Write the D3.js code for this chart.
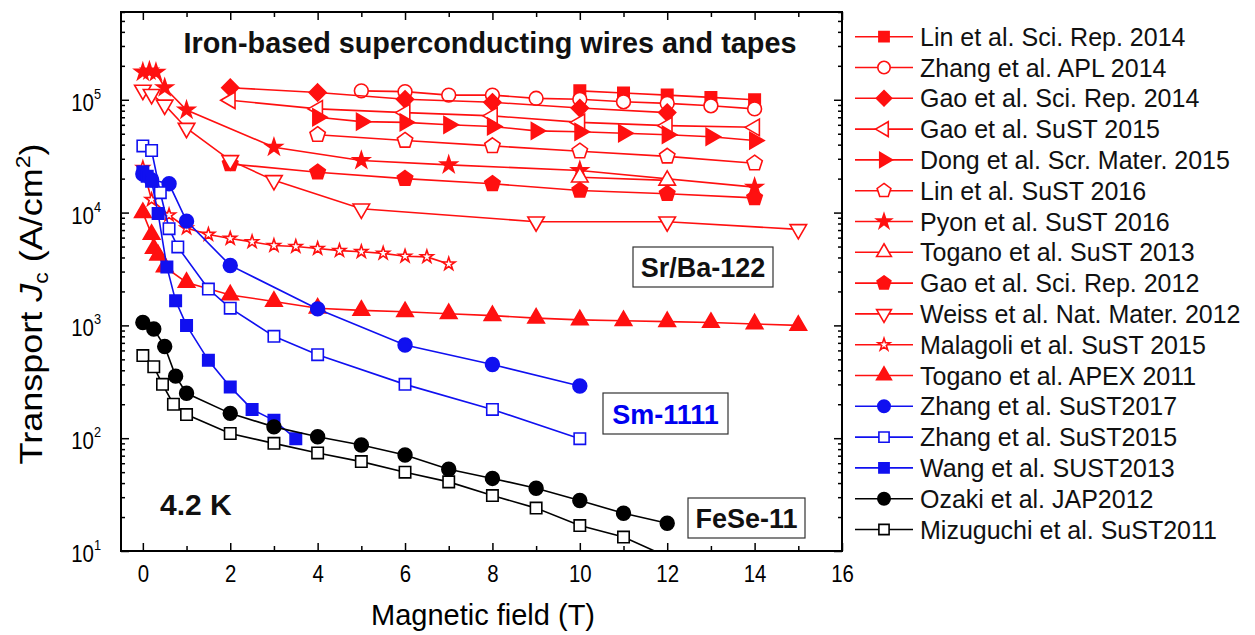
<!DOCTYPE html>
<html>
<head>
<meta charset="utf-8">
<script src="https://cdn.jsdelivr.net/npm/d3@7"></script>
<style>
  body { margin: 0; background: #fff; }
  svg { display: block; font-family: "Liberation Sans", Arial, Helvetica, sans-serif; }
</style>
</head>
<body>
<svg id="chart" width="1255" height="635"></svg>
<script>
// ---- Data: [magnetic field (T), transport Jc (A/cm^2)] at 4.2 K ----
const linSciRep2014 = [[10,1.2e5],[11,1.15e5],[12,1.1e5],[13,1.05e5],[14,1.0e5]];
const zhangAPL2014 = [[5,1.2e5],[6,1.18e5],[7,1.1e5],[8,1.1e5],[9,1.03e5],[10,1.01e5],[11,9.6e4],[12,9.3e4],[13,8.85e4],[14,8.3e4]];
const gaoSciRep2014 = [[2,1.28e5],[4,1.16e5],[6,1.01e5],[8,9.5e4],[10,8.45e4],[12,7.7e4]];
const gaoSuST2015 = [[2,9.9e4],[4,8.3e4],[6,7.7e4],[8,7.2e4],[10,6.3e4],[12,5.9e4],[14,5.7e4]];
const dongScrMater2015 = [[4,7.0e4],[5,6.4e4],[6,6.3e4],[7,6.0e4],[8,5.8e4],[9,5.3e4],[10,5.2e4],[11,5.05e4],[12,4.9e4],[13,4.7e4],[14,4.35e4]];
const linSuST2016 = [[4,4.9e4],[6,4.35e4],[8,3.9e4],[10,3.5e4],[12,3.15e4],[14,2.74e4]];
const pyonSuST2016 = [[0,1.76e5],[0.15,1.8e5],[0.3,1.75e5],[0.5,1.28e5],[1,8.1e4],[3,3.8e4],[5,2.9e4],[7,2.65e4],[10,2.36e4],[14,1.68e4]];
const toganoSuST2013 = [[10,2.06e4],[12,1.93e4]];
const gaoSciRep2012 = [[2,2.7e4],[4,2.28e4],[6,2.0e4],[8,1.8e4],[10,1.57e4],[12,1.47e4],[14,1.35e4]];
const weissNatMater2012 = [[0,1.22e5],[0.2,1.12e5],[0.5,9.0e4],[1,5.6e4],[2,2.9e4],[3,1.93e4],[5,1.08e4],[9,8.3e3],[12,8.3e3],[15,7.1e3]];
const malagoliSuST2015 = [[0,2.5e4],[0.2,1.3e4],[0.6,9.5e3],[1,7.3e3],[1.5,6.4e3],[2,5.9e3],[2.5,5.5e3],[3,5.1e3],[3.5,5.0e3],[4,4.8e3],[4.5,4.6e3],[5,4.5e3],[5.5,4.35e3],[6,4.1e3],[6.5,4.05e3],[7,3.5e3]];
const toganoAPEX2011 = [[0,1.0e4],[0.2,6.4e3],[0.25,4.8e3],[0.35,4.2e3],[0.5,3.3e3],[1,2.4e3],[2,1.86e3],[3,1.63e3],[4,1.42e3],[5,1.36e3],[6,1.32e3],[7,1.27e3],[8,1.22e3],[9,1.16e3],[10,1.12e3],[11,1.1e3],[12,1.08e3],[13,1.06e3],[14,1.03e3],[15,1.0e3]];
const zhangSuST2017 = [[0,2.2e4],[0.2,1.95e4],[0.6,1.8e4],[1,8.4e3],[2,3.4e3],[4,1.4e3],[6,670],[8,450],[10,290]];
const zhangSuST2015 = [[0,3.9e4],[0.2,3.55e4],[0.4,1.5e4],[0.6,7.2e3],[0.8,4.96e3],[1.5,2.1e3],[2,1.42e3],[3,800],[4,550],[6,300],[8,180],[10,99]];
const wangSUST2013 = [[0,2.3e4],[0.1,2.1e4],[0.2,1.9e4],[0.35,9.8e3],[0.55,3.3e3],[0.75,1.65e3],[1,1.0e3],[1.5,490],[2,285],[2.5,180],[3,144],[3.5,99]];
const ozakiJAP2012 = [[0,1.06e3],[0.25,930],[0.5,650],[0.75,355],[1,250],[2,166],[3,126],[4,103],[5,87],[6,71],[7,53],[8,44],[9,36],[10,28],[11,21.6],[12,17.6]];
const mizuguchiSuST2011 = [[0,540],[0.25,430],[0.45,300],[0.7,200],[1,162],[2,110],[3,90],[4,74],[5,62],[6,50],[7,41],[8,31],[9,24],[10,16.8],[11,13.3],[12,8.9]];

const seriesLabels = [
  "Lin et al. Sci. Rep. 2014", "Zhang et al. APL 2014", "Gao et al. Sci. Rep. 2014",
  "Gao et al. SuST 2015", "Dong et al. Scr. Mater. 2015", "Lin et al. SuST 2016",
  "Pyon et al. SuST 2016", "Togano et al. SuST 2013", "Gao et al. Sci. Rep. 2012",
  "Weiss et al. Nat. Mater. 2012", "Malagoli et al. SuST 2015", "Togano et al. APEX 2011",
  "Zhang et al. SuST2017", "Zhang et al. SuST2015", "Wang et al. SUST2013",
  "Ozaki et al. JAP2012", "Mizuguchi et al. SuST2011"
];
const seriesData = [
  linSciRep2014, zhangAPL2014, gaoSciRep2014, gaoSuST2015, dongScrMater2015, linSuST2016,
  pyonSuST2016, toganoSuST2013, gaoSciRep2012, weissNatMater2012, malagoliSuST2015, toganoAPEX2011,
  zhangSuST2017, zhangSuST2015, wangSUST2013, ozakiJAP2012, mizuguchiSuST2011
];
const seriesShapes = ["square","circle","diamond","triLeft","triRight","pentagon","star","triUp","pentagon",
  "triDown","star","triUp","circle","square","square","circle","square"];
const seriesFilled = [true,false,true,false,true,false,true,false,true,false,false,true,true,false,true,true,false];
const seriesGroup = ["r","r","r","r","r","r","r","r","r","r","r","r","b","b","b","k","k"];

const xMajorTicks = [0,2,4,6,8,10,12,14,16];
const xMinorTicks = [1,3,5,7,9,11,13,15];
const yMajorTicks = [10,100,1000,10000,100000];
const yExponents = ["1","2","3","4","5"];

// ---- Layout ----
const colors = { r: "#ff1010", b: "#1010f0", k: "#000" };
const plot = { left: 121, right: 842, top: 12, bottom: 551 };
const svg = d3.select("#chart");
const x = d3.scaleLinear().domain([-0.5, 16]).range([plot.left, plot.right]);
const y = d3.scaleLog().domain([10, 6e5]).range([plot.bottom, plot.top]);

const yMinorTicks = [];
yMajorTicks.forEach(d => { for (let m = 2; m <= 9; m++) if (d * m <= 6e5) yMinorTicks.push(d * m); });

// marker symbol types
function polygonType(n, rot, k) {
  return { draw(ctx, size) {
    const r = Math.sqrt(size) * k;
    for (let i = 0; i < n; i++) {
      const a = rot + i * 2 * Math.PI / n;
      const px = r * Math.sin(a), py = -r * Math.cos(a);
      if (i === 0) ctx.moveTo(px, py); else ctx.lineTo(px, py);
    }
    ctx.closePath();
  }};
}
const shapeTypes = {
  square: d3.symbolSquare,
  circle: d3.symbolCircle,
  diamond: polygonType(4, 0, 0.72),
  triUp: polygonType(3, 0, 0.78),
  triDown: polygonType(3, Math.PI, 0.78),
  triLeft: polygonType(3, -Math.PI / 2, 0.78),
  triRight: polygonType(3, Math.PI / 2, 0.78),
  pentagon: polygonType(5, 0, 0.66),
  star: d3.symbolStar
};
const shapeSizes = { square: 130, circle: 150, diamond: 140, triUp: 150, triDown: 150, triLeft: 150, triRight: 150, pentagon: 150, star: 85 };

// ---- Axes ----
svg.append("defs").append("clipPath").attr("id", "plotClip")
  .append("rect").attr("x", plot.left).attr("y", plot.top)
  .attr("width", plot.right - plot.left).attr("height", plot.bottom - plot.top);

function styleAxis(g) {
  g.select(".domain").remove();
  g.selectAll(".tick line").attr("stroke", "#000").attr("stroke-width", 1.5);
}

const gx = svg.append("g").attr("transform", `translate(0,${plot.bottom})`)
  .call(d3.axisBottom(x).tickValues(xMajorTicks).tickSizeInner(-8).tickSizeOuter(0).tickPadding(14).tickFormat(d3.format("d")))
  .call(styleAxis);
gx.selectAll(".tick text").attr("font-size", 24).attr("fill", "#000").attr("transform", "scale(0.85,1)");
svg.append("g").attr("transform", `translate(0,${plot.bottom})`)
  .call(d3.axisBottom(x).tickValues(xMinorTicks).tickSizeInner(-5).tickSizeOuter(0).tickFormat(""))
  .call(styleAxis);
svg.append("g").attr("transform", `translate(0,${plot.top})`)
  .call(d3.axisTop(x).tickValues(xMajorTicks).tickSizeInner(-8).tickSizeOuter(0).tickFormat(""))
  .call(styleAxis);
svg.append("g").attr("transform", `translate(0,${plot.top})`)
  .call(d3.axisTop(x).tickValues(xMinorTicks).tickSizeInner(-5).tickSizeOuter(0).tickFormat(""))
  .call(styleAxis);

svg.append("g").attr("transform", `translate(${plot.left},0)`)
  .call(d3.axisLeft(y).tickValues(yMajorTicks).tickSizeInner(-8).tickSizeOuter(0).tickFormat(""))
  .call(styleAxis);
svg.append("g").attr("transform", `translate(${plot.left},0)`)
  .call(d3.axisLeft(y).tickValues(yMinorTicks).tickSizeInner(-4).tickSizeOuter(0).tickFormat(""))
  .call(styleAxis);
svg.append("g").attr("transform", `translate(${plot.right},0)`)
  .call(d3.axisRight(y).tickValues(yMajorTicks).tickSizeInner(-8).tickSizeOuter(0).tickFormat(""))
  .call(styleAxis);
svg.append("g").attr("transform", `translate(${plot.right},0)`)
  .call(d3.axisRight(y).tickValues(yMinorTicks).tickSizeInner(-4).tickSizeOuter(0).tickFormat(""))
  .call(styleAxis);

// y tick labels: 10^n
yMajorTicks.forEach((d, i) => {
  const t = svg.append("text")
    .attr("transform", `translate(${plot.left - 20},${y(d) + 11}) scale(0.85,1)`)
    .attr("text-anchor", "end").attr("font-size", 24).attr("fill", "#000");
  t.append("tspan").text("10");
  t.append("tspan").attr("font-size", 15).attr("dy", -12).text(yExponents[i]);
});

// frame
svg.append("rect").attr("x", plot.left).attr("y", plot.top)
  .attr("width", plot.right - plot.left).attr("height", plot.bottom - plot.top)
  .attr("fill", "none").attr("stroke", "#000").attr("stroke-width", 2);

// axis titles
svg.append("text").attr("x", 483).attr("y", 625).attr("text-anchor", "middle")
  .attr("font-size", 29).attr("fill", "#000").text("Magnetic field (T)");
const yt = svg.append("text")
  .attr("transform", `translate(42,304) scale(0.85,1) rotate(-90)`)
  .attr("text-anchor", "middle").attr("font-size", 36).attr("fill", "#000");
yt.append("tspan").text("Transport ");
yt.append("tspan").attr("font-style", "italic").text("J");
yt.append("tspan").attr("font-size", 23).attr("dy", 7).text("c");
yt.append("tspan").attr("dy", -7).text(" (A/cm");
yt.append("tspan").attr("font-size", 23).attr("dy", -14).text("2");
yt.append("tspan").attr("dy", 14).text(")");

// ---- Series ----
const line = d3.line().x(d => x(d[0])).y(d => y(d[1]));
const plotG = svg.append("g").attr("clip-path", "url(#plotClip)");

seriesData.forEach((data, i) => {
  const c = colors[seriesGroup[i]];
  const g = plotG.append("g");
  g.append("path").datum(data).attr("d", line)
    .attr("fill", "none").attr("stroke", c).attr("stroke-width", 1.6);
  const shape = seriesShapes[i];
  let size = shapeSizes[shape];
  if (shape === "star" && !seriesFilled[i]) size = 50;
  const sym = d3.symbol().type(shapeTypes[shape]).size(size);
  g.selectAll("path.pt").data(data).join("path").attr("class", "pt")
    .attr("transform", d => `translate(${x(d[0])},${y(d[1])})`)
    .attr("d", sym)
    .attr("fill", seriesFilled[i] ? c : "#fff")
    .attr("stroke", c).attr("stroke-width", 1.6);
});

// ---- Annotations ----
svg.append("text").attr("x", 490).attr("y", 53).attr("text-anchor", "middle")
  .attr("font-size", 28.8).attr("font-weight", "bold").attr("fill", "#111")
  .text("Iron-based superconducting wires and tapes");
svg.append("text").attr("x", 160).attr("y", 515)
  .attr("font-size", 30).attr("font-weight", "bold").attr("fill", "#111").text("4.2 K");

const boxes = [
  { text: "Sr/Ba-122", x0: 633, x1: 773, y0: 247, y1: 287, color: "#111" },
  { text: "Sm-1111", x0: 603, x1: 728, y0: 393, y1: 434, color: "#0000f0" },
  { text: "FeSe-11", x0: 688, x1: 805, y0: 498, y1: 538, color: "#111" }
];
boxes.forEach(b => {
  svg.append("rect").attr("x", b.x0).attr("y", b.y0).attr("width", b.x1 - b.x0).attr("height", b.y1 - b.y0)
    .attr("fill", "#fff").attr("stroke", "#333").attr("stroke-width", 1.2);
  svg.append("text").attr("x", (b.x0 + b.x1) / 2).attr("y", (b.y0 + b.y1) / 2 + 10)
    .attr("text-anchor", "middle").attr("font-size", 27).attr("font-weight", "bold")
    .attr("fill", b.color).text(b.text);
});

// ---- Legend ----
const legend = svg.append("g");
seriesLabels.forEach((label, i) => {
  const cy = 36.7 + i * 30.8;
  const c = colors[seriesGroup[i]];
  const g = legend.append("g").attr("transform", `translate(0,${cy})`);
  g.append("line").attr("x1", 855).attr("x2", 913).attr("y1", 0).attr("y2", 0)
    .attr("stroke", c).attr("stroke-width", 1.6);
  const shape = seriesShapes[i];
  let size = shapeSizes[shape] * 0.8;
  if (shape === "star" && !seriesFilled[i]) size = 45;
  g.append("path").attr("transform", "translate(884,0)")
    .attr("d", d3.symbol().type(shapeTypes[shape]).size(size))
    .attr("fill", seriesFilled[i] ? c : "#fff").attr("stroke", c).attr("stroke-width", 1.6);
  g.append("text").attr("x", 920).attr("y", 9).attr("font-size", 25).attr("fill", "#111").text(label);
});
</script>
</body>
</html>
